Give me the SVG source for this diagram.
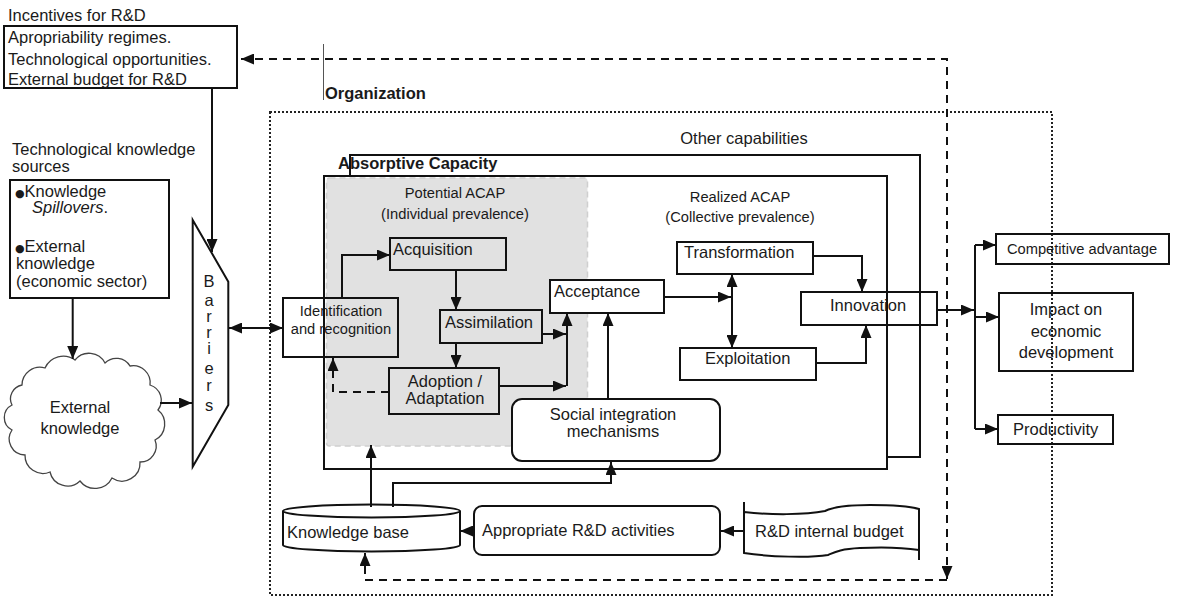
<svg xmlns="http://www.w3.org/2000/svg" width="1179" height="601" viewBox="0 0 1179 601">
<style>
text{font-family:"Liberation Sans",Arial,sans-serif;font-size:16.5px;fill:#1a1a1a}
.s{font-size:14.7px}
.b{font-weight:bold}
.m{text-anchor:middle}
.bul{font-family:"DejaVu Sans",sans-serif;font-size:11px}
.box{fill:none;stroke:#111;stroke-width:2}
.wbox{fill:#fff;stroke:#111;stroke-width:2}
.ln{fill:none;stroke:#111;stroke-width:2}
.dash{fill:none;stroke:#111;stroke-width:2;stroke-dasharray:8 6}
.arr{marker-end:url(#ah)}
</style>
<defs>
<marker id="ah" markerUnits="userSpaceOnUse" markerWidth="13" markerHeight="11" refX="13" refY="5.5" orient="auto-start-reverse" viewBox="0 0 13 11"><path d="M0,0 L13,5.5 L0,11 z" fill="#111"/></marker>
</defs>
<rect width="1179" height="601" fill="#fff"/>

<g id="organization">
<rect x="270" y="112" width="782" height="483" fill="none" stroke="#222" stroke-width="2" stroke-dasharray="2 2"/>
<line x1="323.5" y1="44" x2="323.5" y2="100" stroke="#555" stroke-width="1"/>
<text x="325" y="99" class="b">Organization</text>
</g>

<g id="incentives">
<text x="8" y="21">Incentives for R&amp;D</text>
<rect x="4" y="26" width="233" height="62" class="box"/>
<text x="8" y="43">Apropriability regimes.</text>
<text x="8" y="65">Technological opportunities.</text>
<text x="8" y="85">External budget for R&amp;D</text>
</g>

<g id="sources">
<text x="12" y="155">Technological knowledge</text>
<text x="12" y="172">sources</text>
<rect x="10" y="180" width="159" height="118" class="box"/>
<text x="15" y="197"><tspan class="bul">●</tspan>Knowledge</text>
<text x="32" y="213" font-style="italic">Spillovers<tspan font-style="normal">.</tspan></text>
<text x="15" y="252"><tspan class="bul">●</tspan>External</text>
<text x="16" y="269">knowledge</text>
<text x="16" y="287">(economic sector)</text>
</g>

<g id="cloud">
<path d="M22,385 A18,18 0 0 1 45,368 A20,20 0 0 1 75,360 A18,18 0 0 1 105,363 A16,16 0 0 1 130,366 A17,17 0 0 1 150,385 A16,16 0 0 1 158,410 A18,18 0 0 1 155,440 A16,16 0 0 1 140,462 A18,18 0 0 1 112,478 A19,19 0 0 1 80,481 A18,18 0 0 1 50,472 A18,18 0 0 1 25,455 A16,16 0 0 1 12,430 A14,14 0 0 1 12,405 A14,14 0 0 1 22,385 Z" fill="#fff" stroke="#444" stroke-width="1.3"/>
<text x="80" y="413" class="m">External</text>
<text x="80" y="434" class="m">knowledge</text>
</g>

<g id="barriers">
<polygon points="192.7,220 228.3,281.7 228.3,405 192.7,466.7" class="wbox"/>
<text x="209" y="287" class="m">B</text>
<text x="209" y="306" class="m">a</text>
<text x="209" y="322" class="m">r</text>
<text x="209" y="338" class="m">r</text>
<text x="209" y="354" class="m">i</text>
<text x="209" y="374" class="m">e</text>
<text x="209" y="391" class="m">r</text>
<text x="209" y="411" class="m">s</text>
</g>

<g id="other-capabilities">
<text x="744" y="144" class="m">Other capabilities</text>
<rect x="350" y="155" width="570" height="302" class="wbox"/>
</g>

<g id="absorptive-capacity">
<text x="338" y="169" class="b">Absorptive Capacity</text>
<rect x="324" y="176" width="563" height="293" class="wbox"/>
</g>

<g id="potential-acap">
<rect x="326.5" y="178" width="261" height="268" rx="3" fill="#e1e1e1" stroke="#cfcfcf" stroke-width="1.5" stroke-dasharray="6 4"/>
<text x="455" y="198" class="s m">Potential ACAP</text>
<text x="455" y="219" class="s m">(Individual prevalence)</text>
</g>

<g id="realized-acap">
<text x="740" y="202" class="s m">Realized ACAP</text>
<text x="740" y="222" class="s m">(Collective prevalence)</text>
</g>

<g id="identification">
<rect x="283" y="298" width="115" height="59" class="box"/>
<text x="341" y="316" class="s m">Identification</text>
<text x="341" y="334" class="s m">and recognition</text>
</g>

<g id="acquisition">
<rect x="390" y="238" width="116" height="32" class="box"/>
<text x="393" y="255">Acquisition</text>
</g>

<g id="assimilation">
<rect x="440" y="310" width="102" height="33" class="box"/>
<text x="445" y="328">Assimilation</text>
</g>

<g id="adoption">
<rect x="389" y="368" width="110" height="46" class="box"/>
<text x="445" y="387" class="m">Adoption /</text>
<text x="445" y="404" class="m">Adaptation</text>
</g>

<g id="acceptance">
<rect x="550" y="280" width="114" height="33" class="wbox"/>
<text x="554" y="297">Acceptance</text>
</g>

<g id="social-integration">
<rect x="512" y="399" width="208" height="62" rx="10" class="wbox"/>
<text x="613" y="420" class="m">Social integration</text>
<text x="613" y="437" class="m">mechanisms</text>
</g>

<g id="transformation">
<rect x="677" y="242" width="136" height="32" class="box"/>
<text x="684" y="258">Transformation</text>
</g>

<g id="exploitation">
<rect x="680" y="348" width="136" height="32" class="box"/>
<text x="705" y="364">Exploitation</text>
</g>

<g id="innovation">
<rect x="801" y="292" width="136" height="33" class="box"/>
<text x="830" y="311">Innovation</text>
</g>

<g id="competitive-advantage">
<rect x="996" y="234" width="173" height="30" class="box"/>
<text x="1082" y="254" class="s m">Competitive advantage</text>
</g>

<g id="impact">
<rect x="999" y="293" width="134" height="78" class="box"/>
<text x="1066" y="315" class="m">Impact on</text>
<text x="1066" y="337" class="m">economic</text>
<text x="1066" y="358" class="m">development</text>
</g>

<g id="productivity">
<rect x="998" y="415" width="115" height="29" class="box"/>
<text x="1013" y="435">Productivity</text>
</g>

<g id="knowledge-base">
<path d="M283,511 A88.5,6.5 0 0 1 460,511 V545 A88.5,6.5 0 0 1 283,545 Z" class="wbox"/>
<path d="M283,511 A88.5,6.5 0 0 0 460,511" class="ln"/>
<text x="287" y="538">Knowledge base</text>
</g>

<g id="appropriate-rd">
<rect x="474" y="506" width="246" height="49" rx="8" class="wbox"/>
<text x="482" y="536">Appropriate R&amp;D activities</text>
</g>

<g id="rd-budget">
<path d="M744,512 C770,515 805,515 825,511 C835,506 850,505 870,505 C895,505 912,507 919,509 L919,550 C900,547 880,547 860,548 C840,549 835,552 828,555 C810,558 770,557 744,553 Z" fill="#fff" stroke="#111" stroke-width="2"/>
<path d="M744,502 V553 M919,509 V560" class="ln"/>
<text x="755" y="537">R&amp;D internal budget</text>
</g>

<g id="connectors">
<path d="M212,88 V252" class="ln arr"/>
<path d="M72.7,298 V359" class="ln arr"/>
<path d="M160,403 H192" class="ln arr"/>
<path d="M229,328 H283" class="ln arr" marker-start="url(#ah)"/>
<path d="M342,298 V255 H390" class="ln arr"/>
<path d="M456,270 V310" class="ln arr"/>
<path d="M456,343 V368" class="ln arr"/>
<path d="M542,334 H566" class="ln arr"/>
<path d="M499,386 H566" class="ln arr"/>
<path d="M567,386 V313" class="ln arr"/>
<path d="M389,392 H333 V358" class="dash arr"/>
<path d="M608,399 V313" class="ln arr"/>
<path d="M664,297 H731" class="ln arr"/>
<path d="M732,274 V348" class="ln arr" marker-start="url(#ah)"/>
<path d="M813,256 H862 V292" class="ln arr"/>
<path d="M816,363 H866 V325" class="ln arr"/>
<path d="M937,310 H974" class="ln arr"/>
<path d="M975,245 V429" class="ln"/>
<path d="M975,245 H996" class="ln arr"/>
<path d="M975,317 H999" class="ln arr"/>
<path d="M975,429 H998" class="ln arr"/>
<path d="M371,507 V445" class="ln arr"/>
<path d="M393,507 V483 H611 V462" class="ln arr"/>
<path d="M474,531 H460" class="ln arr"/>
<path d="M744,531 H721" class="ln arr"/>
<path d="M947,579 V59 H241" class="dash arr" marker-start="url(#ah)"/>
<path d="M947,580 H365 V553" class="dash arr"/>
</g>
</svg>
